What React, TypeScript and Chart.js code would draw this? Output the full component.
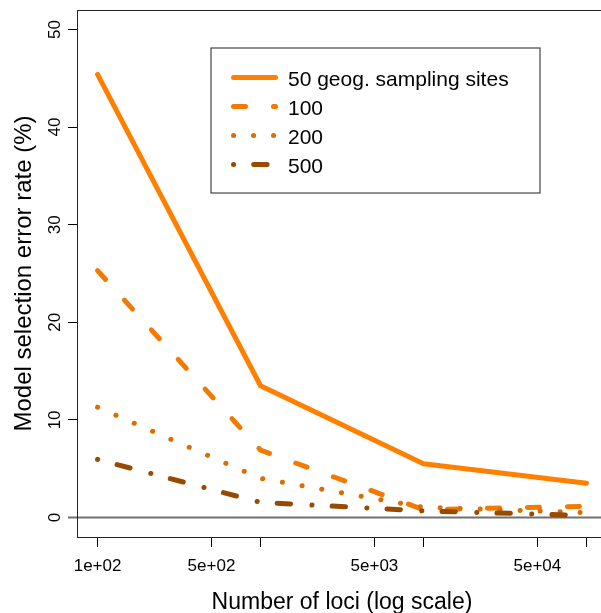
import { useEffect, useRef } from "react";
import { Chart, registerables } from "chart.js";

Chart.register(...registerables);

// ---- data ----
const loci = [100, 1000, 10000, 100000];
const sites50 = [45.4, 13.5, 5.5, 3.5];
const sites100 = [25.3, 6.9, 0.8, 1.15];
const sites200 = [11.3, 4.0, 1.05, 0.5];
const sites500 = [5.95, 1.55, 0.68, 0.2];
const seriesLabels = ["50 geog. sampling sites", "100", "200", "500"];
const yTicks = [0, 10, 20, 30, 40, 50];
const xTicks = [100, 500, 1000, 5000, 10000, 50000, 100000];
const xTickLabels = ["1e+02", "5e+02", "", "5e+03", "", "5e+04", ""];
const xTitle = "Number of loci (log scale)";
const yTitle = "Model selection error rate (%)";

// ---- styles ----
const FONT = "'Liberation Sans', Arial, Helvetica, sans-serif";
const colors = ["#FF8000", "#F27A00", "#DA6E00", "#974B00"];
const dashes: number[][] = [[], [12, 28], [0.1, 19.9], [0.1, 20.1, 13.4, 21.4]];
const seriesData = [sites50, sites100, sites200, sites500];

const decor = {
  id: "decor",
  beforeDatasetsDraw(chart: any) {
    const { ctx, chartArea: a, scales } = chart;
    const y0 = scales.y.getPixelForValue(0);
    ctx.save();
    ctx.strokeStyle = "#707070";
    ctx.lineWidth = 1.8;
    ctx.beginPath();
    ctx.moveTo(a.left - 10, y0);
    ctx.lineTo(a.right, y0);
    ctx.stroke();
    ctx.restore();
  },
  afterDraw(chart: any) {
    const { ctx, chartArea: a, scales } = chart;
    const xs = scales.x;
    const ys = scales.y;
    ctx.save();
    // plot box
    ctx.strokeStyle = "#222";
    ctx.lineWidth = 1;
    ctx.strokeRect(Math.round(a.left) - 0.5, Math.round(a.top) + 0.5, Math.round(a.right - a.left), Math.round(a.bottom - a.top));

    ctx.fillStyle = "#000";
    // x tick labels
    ctx.font = `17px ${FONT}`;
    ctx.textAlign = "center";
    ctx.textBaseline = "alphabetic";
    xs.ticks.forEach((t: any, i: number) => {
      const lbl = xTickLabels[i];
      if (!lbl) return;
      ctx.fillText(lbl, xs.getPixelForValue(t.value), 571);
    });
    // y tick labels (rotated)
    ys.ticks.forEach((t: any) => {
      const py = ys.getPixelForValue(t.value);
      ctx.save();
      ctx.translate(60, py);
      ctx.rotate(-Math.PI / 2);
      ctx.fillText(String(t.value), 0, 0);
      ctx.restore();
    });
    // axis titles
    ctx.font = `23px ${FONT}`;
    ctx.fillText(xTitle, (a.left + a.right) / 2, 609);
    ctx.save();
    ctx.translate(31, (a.top + a.bottom) / 2);
    ctx.rotate(-Math.PI / 2);
    ctx.font = `24px ${FONT}`;
    ctx.fillText(yTitle, 0, 0);
    ctx.restore();

    // legend
    ctx.strokeStyle = "#444";
    ctx.lineWidth = 1.2;
    ctx.strokeRect(211, 48, 329, 145);
    ctx.font = `21px ${FONT}`;
    ctx.textAlign = "left";
    chart.data.datasets.forEach((ds: any, i: number) => {
      const ly = 77.5 + i * 29;
      ctx.save();
      ctx.strokeStyle = ds.borderColor;
      ctx.lineWidth = ds.borderWidth;
      ctx.lineCap = "round";
      ctx.setLineDash(ds.borderDash || []);
      ctx.beginPath();
      ctx.moveTo(233.5, ly);
      ctx.lineTo(275.5, ly);
      ctx.stroke();
      ctx.restore();
      ctx.fillStyle = "#000";
      ctx.fillText(ds.label, 288, ly + 8.5);
    });
    ctx.restore();
  },
};

export default function App() {
  const ref = useRef<HTMLCanvasElement | null>(null);
  useEffect(() => {
    if (!ref.current) return;
    const chart = new Chart(ref.current, {
      type: "line",
      data: {
        datasets: seriesData.map((arr, i) => ({
          label: seriesLabels[i],
          data: loci.map((x, j) => ({ x, y: arr[j] })),
          borderColor: colors[i],
          backgroundColor: colors[i],
          borderWidth: 5,
          borderDash: dashes[i],
          borderCapStyle: "round",
          borderJoinStyle: "round",
          pointRadius: 0,
          tension: 0,
          fill: false,
          order: 4 - i,
        })),
      },
      options: {
        animation: false,
        responsive: false,
        devicePixelRatio: 1,
        layout: { padding: { left: 0, top: 10, right: 34, bottom: 0 } },
        plugins: { legend: { display: false }, tooltip: { enabled: false } },
        scales: {
          x: {
            type: "logarithmic",
            min: Math.pow(10, 1.88),
            max: Math.pow(10, 5.12),
            afterBuildTicks: (s: any) => {
              s.ticks = xTicks.map((v) => ({ value: v }));
            },
            afterFit: (s: any) => {
              s.height = 76;
            },
            ticks: { display: false },
            border: { display: false },
            grid: { drawOnChartArea: false, drawTicks: true, tickLength: 10, color: "#000", lineWidth: 1 },
          },
          y: {
            type: "linear",
            min: -2,
            max: 52,
            afterBuildTicks: (s: any) => {
              s.ticks = yTicks.map((v) => ({ value: v }));
            },
            afterFit: (s: any) => {
              s.width = 78;
            },
            ticks: { display: false },
            border: { display: false },
            grid: { drawOnChartArea: false, drawTicks: true, tickLength: 10, color: "#000", lineWidth: 1 },
          },
        },
      },
      plugins: [decor],
    });
    return () => chart.destroy();
  }, []);
  return (
    <div style={{ position: "absolute", left: 0, top: 0, width: 601, height: 613, overflow: "hidden", background: "#fff" }}>
      <canvas ref={ref} width={640} height={613} style={{ width: 640, height: 613, display: "block" }} />
    </div>
  );
}
